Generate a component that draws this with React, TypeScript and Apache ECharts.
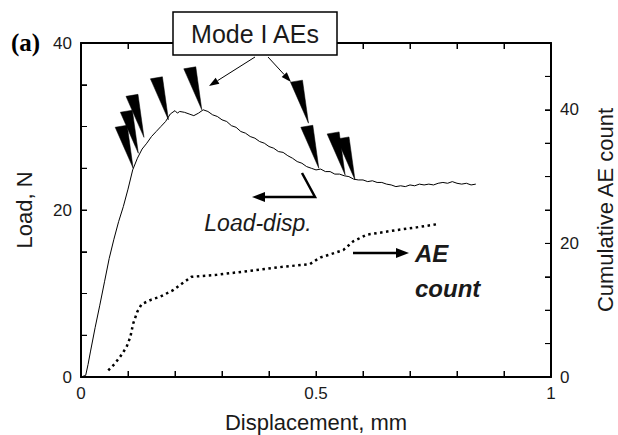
import React, { useEffect, useRef } from "react";
import * as echarts from "echarts";

const FONT = '"Liberation Sans", Arial, Helvetica, sans-serif';
const INK = "#1a1a1a";

// Load vs displacement (left axis, N)
const loadDisp: number[][] = [
  [0.0, 0.0], [0.01, 0.2], [0.015, 1.5], [0.02, 3.0], [0.03, 5.9], [0.04, 8.6], [0.05, 11.4],
  [0.06, 14.2], [0.07, 16.5], [0.08, 18.6], [0.09, 20.4], [0.1, 22.5], [0.11, 24.8],
  [0.12, 26.2], [0.13, 27.3], [0.14, 28.0], [0.15, 28.8], [0.16, 29.4], [0.17, 30.0],
  [0.18, 30.6], [0.19, 31.5], [0.2, 31.9], [0.205, 31.6], [0.21, 31.8], [0.22, 31.7],
  [0.23, 31.5], [0.24, 31.3], [0.25, 31.6], [0.26, 32.0], [0.27, 31.8], [0.28, 31.4],
  [0.29, 31.2], [0.3, 30.8], [0.31, 30.6], [0.32, 30.1], [0.33, 29.9], [0.34, 29.4],
  [0.35, 29.2], [0.36, 28.8], [0.37, 28.6], [0.38, 28.2], [0.39, 28.0], [0.4, 27.6],
  [0.41, 27.4], [0.42, 27.0], [0.43, 26.9], [0.44, 26.5], [0.45, 26.2], [0.46, 25.8],
  [0.47, 25.6], [0.48, 25.2], [0.49, 25.0], [0.5, 24.8], [0.51, 24.9], [0.52, 24.6],
  [0.53, 24.6], [0.54, 24.3], [0.55, 24.3], [0.56, 24.1], [0.57, 24.0], [0.58, 23.7],
  [0.59, 23.6], [0.6, 23.6], [0.61, 23.4], [0.62, 23.5], [0.63, 23.3], [0.64, 23.3],
  [0.65, 23.1], [0.66, 23.0], [0.67, 22.8], [0.68, 22.9], [0.69, 22.8], [0.7, 23.0],
  [0.71, 22.9], [0.72, 23.1], [0.73, 23.0], [0.74, 23.1], [0.75, 23.0], [0.76, 23.2],
  [0.77, 23.3], [0.78, 23.2], [0.79, 23.4], [0.8, 23.2], [0.81, 23.1], [0.82, 23.2],
  [0.83, 23.0], [0.84, 23.1],
];

// Cumulative AE count vs displacement (right axis)
const aeCount: number[][] = [
  [0.058, 1.0], [0.072, 2.0], [0.085, 3.2], [0.097, 4.5], [0.105, 6.0], [0.111, 8.0],
  [0.12, 9.8], [0.129, 10.9], [0.15, 11.6], [0.168, 12.0], [0.196, 13.0], [0.215, 14.0],
  [0.235, 15.0], [0.289, 15.3], [0.36, 15.9], [0.43, 16.5], [0.487, 16.9], [0.5, 17.5],
  [0.51, 17.9], [0.558, 19.0], [0.579, 20.3], [0.608, 21.3], [0.672, 22.0], [0.714, 22.4],
  [0.76, 22.9],
];

// Tips of the Mode I AE wedge markers (displacement, load)
const modeIAEs: number[][] = [
  [0.111, 25.0], [0.122, 26.8], [0.134, 28.7], [0.186, 30.8], [0.257, 32.0],
  [0.484, 30.4], [0.506, 25.0], [0.562, 24.2], [0.583, 23.6],
];

// Tick positions (frame ticks on all four sides)
const xTickValues = [0, 0.1, 0.2, 0.3, 0.4, 0.5, 0.6, 0.7, 0.8, 0.9, 1];
const loadTickValues = [0, 5, 10, 15, 20, 25, 30, 35, 40];
const countTickValues = [0, 5, 10, 15, 20, 25, 30, 35, 40, 45, 50];
const xTickLabels: Record<string, string> = { "0": "0", "0.5": "0.5", "1": "1" };

const LOAD_MAX = 40;
const COUNT_MAX = 50;
const TICK = 6;

function fmtX(v: number): string {
  const k = String(Math.round(v * 10) / 10);
  return xTickLabels[k] ?? "";
}
function fmt20(v: number): string {
  return Math.round(v) % 20 === 0 ? String(Math.round(v)) : "";
}

export default function App() {
  const ref = useRef<HTMLDivElement>(null);
  useEffect(() => {
    if (!ref.current) return;
    const chart = echarts.init(ref.current, undefined, { renderer: "svg" });
    const mkLine = () => ({ show: true, onZero: false, lineStyle: { color: "#000", width: 2 } });
    const mkTick = () => ({ show: true, inside: true, length: TICK, lineStyle: { color: "#000", width: 1 } });
    const label = { fontSize: 17, color: INK, fontFamily: FONT };
    const nameStyle = { fontSize: 22, color: INK, fontFamily: FONT };

    const option: any = {
      animation: false,
      grid: { left: 81, right: 67, top: 43, bottom: 58, containLabel: false, outerBoundsMode: "none" },
      xAxis: [
        {
          type: "value", min: 0, max: 1, interval: 0.1, position: "bottom",
          axisLine: mkLine(), axisTick: mkTick(), splitLine: { show: false },
          axisLabel: { ...label, margin: 8, formatter: fmtX },
          name: "Displacement, mm", nameLocation: "middle", nameGap: 34, nameTextStyle: nameStyle,
        },
        {
          type: "value", min: 0, max: 1, interval: 0.1, position: "top",
          axisLine: mkLine(), axisTick: mkTick(), splitLine: { show: false }, axisLabel: { show: false },
        },
      ],
      yAxis: [
        {
          type: "value", min: 0, max: LOAD_MAX, interval: 5, position: "left",
          axisLine: mkLine(), axisTick: mkTick(), splitLine: { show: false },
          axisLabel: { ...label, margin: 9, formatter: fmt20 },
          name: "Load, N", nameLocation: "middle", nameGap: 46, nameTextStyle: nameStyle,
        },
        {
          type: "value", min: 0, max: COUNT_MAX, interval: 5, position: "right",
          axisLine: mkLine(), axisTick: mkTick(), splitLine: { show: false },
          axisLabel: { ...label, margin: 9, formatter: fmt20 },
          name: "Cumulative AE count", nameLocation: "middle", nameGap: 43, nameTextStyle: nameStyle,
        },
      ],
      series: [
        {
          type: "custom", name: "frame ticks", xAxisIndex: 0, yAxisIndex: 0, data: [[0, 0]],
          silent: true, clip: false, z: 2,
          renderItem: (_params: any, api: any) => {
            const children: any[] = [];
            const seg = (x1: number, y1: number, x2: number, y2: number) =>
              children.push({ type: "line", shape: { x1, y1, x2, y2 }, style: { stroke: "#000", lineWidth: 1 } });
            xTickValues.forEach((x) => {
              const b = api.coord([x, 0]);
              const t = api.coord([x, LOAD_MAX]);
              seg(b[0], b[1], b[0], b[1] - TICK);
              seg(t[0], t[1], t[0], t[1] + TICK);
            });
            loadTickValues.forEach((y) => {
              const l = api.coord([0, y]);
              seg(l[0], l[1], l[0] + TICK, l[1]);
            });
            countTickValues.forEach((c) => {
              const r = api.coord([1, (c / COUNT_MAX) * LOAD_MAX]);
              seg(r[0], r[1], r[0] - TICK, r[1]);
            });
            return { type: "group", children };
          },
        },
        {
          type: "line", name: "Load-disp.", xAxisIndex: 0, yAxisIndex: 0, data: loadDisp,
          showSymbol: false, symbol: "none", lineStyle: { color: "#000", width: 1 }, z: 3,
        },
        {
          type: "line", name: "AE count", xAxisIndex: 0, yAxisIndex: 1, data: aeCount,
          showSymbol: false, symbol: "none",
          lineStyle: { color: "#000", width: 2.5, type: [2.5, 3.5], cap: "butt" }, z: 3,
        },
        {
          type: "custom", name: "Mode I AEs", xAxisIndex: 0, yAxisIndex: 0, data: modeIAEs,
          clip: false, z: 4,
          renderItem: (_params: any, api: any) => {
            const p = api.coord([api.value(0), api.value(1)]);
            return {
              type: "polygon",
              shape: { points: [[p[0], p[1]], [p[0] - 18, p[1] - 41], [p[0] - 6, p[1] - 43]] },
              style: { fill: "#000", stroke: "#000", lineWidth: 0.5 },
            };
          },
        },
      ],
      graphic: [
        {
          type: "text", left: 11, top: 30,
          style: { text: "(a)", font: 'bold 25px "Liberation Serif", "Times New Roman", serif', fill: "#000" },
        },
        {
          type: "rect", shape: { x: 173, y: 12, width: 164, height: 43 },
          style: { fill: "#fff", stroke: "#000", lineWidth: 1.5 }, z: 10,
        },
        {
          type: "text", x: 255, y: 34, z: 11,
          style: { text: "Mode I AEs", font: `25px ${FONT}`, fill: INK, textAlign: "center", textVerticalAlign: "middle" },
        },
        { type: "line", shape: { x1: 255, y1: 57, x2: 217.5, y2: 80.7 }, style: { stroke: "#000", lineWidth: 1 } },
        { type: "polygon", shape: { points: [[209, 86], [215.6, 77.7], [219.4, 83.7]] }, style: { fill: "#000" } },
        { type: "line", shape: { x1: 268, y1: 57, x2: 284.2, y2: 74.6 }, style: { stroke: "#000", lineWidth: 1 } },
        { type: "polygon", shape: { points: [[291, 82], [281.7, 77.0], [286.8, 72.3]] }, style: { fill: "#000" } },
        {
          type: "polyline", shape: { points: [[302, 173], [315, 197], [262, 197]] },
          style: { stroke: "#000", lineWidth: 2.5, fill: "none" },
        },
        { type: "polygon", shape: { points: [[252, 197], [265, 192], [265, 202]] }, style: { fill: "#000" } },
        {
          type: "text", x: 258, y: 223,
          style: { text: "Load-disp.", font: `italic 23px ${FONT}`, fill: INK, textAlign: "center", textVerticalAlign: "middle" },
        },
        { type: "line", shape: { x1: 353, y1: 253, x2: 398, y2: 253 }, style: { stroke: "#000", lineWidth: 2.5 } },
        { type: "polygon", shape: { points: [[409, 253], [396, 248], [396, 258]] }, style: { fill: "#000" } },
        {
          type: "text", x: 415, y: 253,
          style: { text: "AE", font: `italic bold 24px ${FONT}`, fill: INK, textAlign: "left", textVerticalAlign: "middle" },
        },
        {
          type: "text", x: 415, y: 288,
          style: { text: "count", font: `italic bold 24px ${FONT}`, fill: INK, textAlign: "left", textVerticalAlign: "middle" },
        },
      ],
    };
    chart.setOption(option);
    return () => chart.dispose();
  }, []);
  return (
    <div
      ref={ref}
      style={{ position: "fixed", left: 0, top: 0, width: 618, height: 435, background: "#fff" }}
    />
  );
}
